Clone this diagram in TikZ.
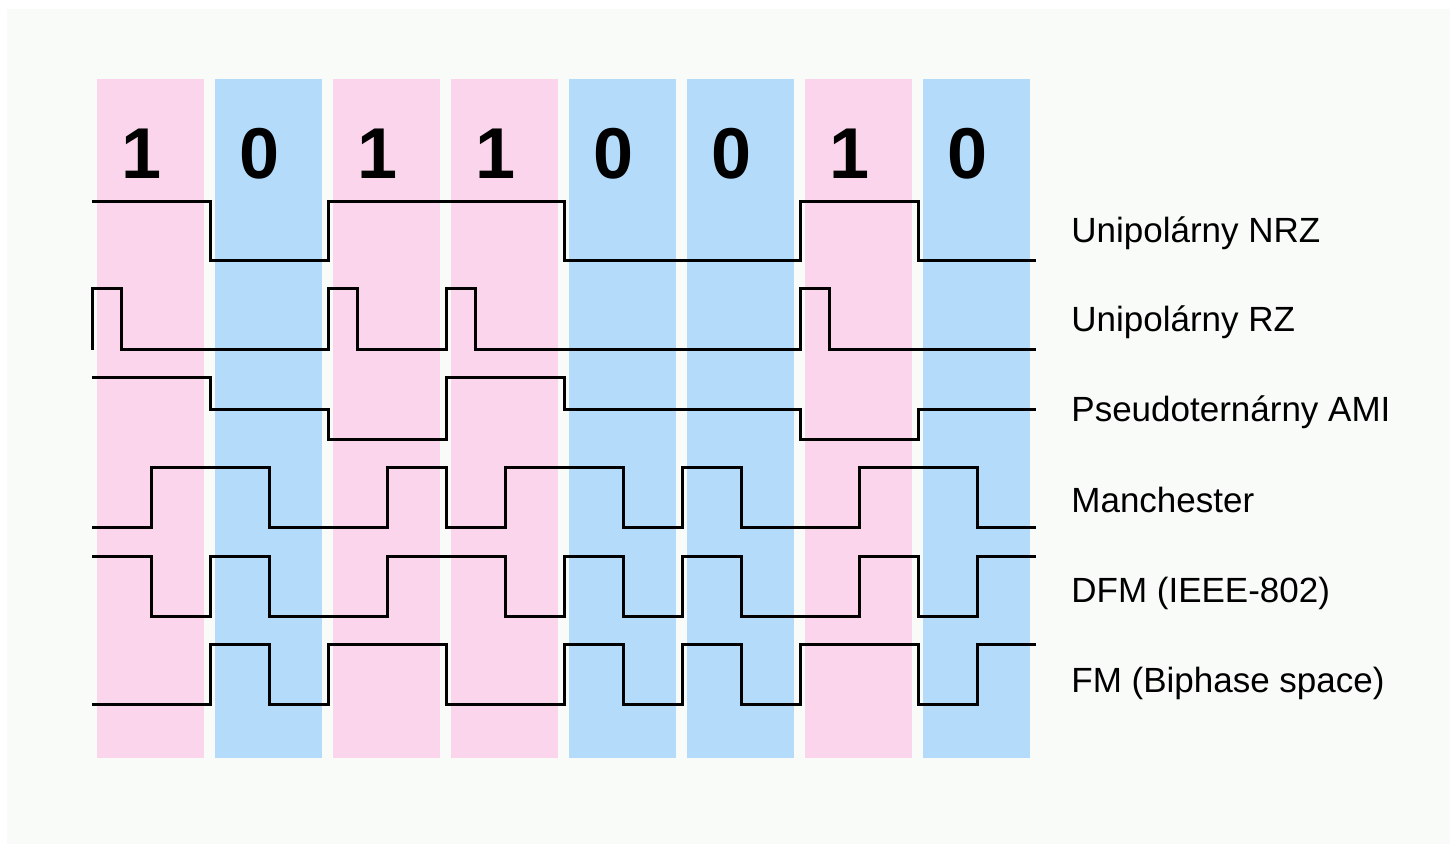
\documentclass[tikz,border=0pt]{standalone}
\usepackage{fontspec}
\setmainfont{Liberation Sans}
\usepackage{tikz}
\usetikzlibrary{positioning}
\definecolor{tkPink}{RGB}{250,213,236}
\definecolor{tkSky}{RGB}{180,220,250}
\definecolor{tkBack}{RGB}{249,251,249}

\begin{document}
\begin{tikzpicture}[
  x=0.5pt, y=-0.5pt,
  one/.style={fill=tkPink},
  zero/.style={fill=tkSky},
  bit/.style={anchor=base, inner sep=0pt, font=\fontsize{36}{40}\selectfont\bfseries},
  code/.style={anchor=base west, inner sep=0pt, font=\fontsize{17.5}{20}\selectfont},
  wave/.style={draw=black, line width=1.5pt, line join=miter}
]
  \useasboundingbox (0,0) rectangle (1450,844);
  \fill[white] (0,0) rectangle (1450,844);
  \fill[tkBack] (7,9) rectangle (1450,844);
  \fill[one] (97,79) rectangle (204,758);
  \fill[zero] (215,79) rectangle (322,758);
  \fill[one] (333,79) rectangle (440,758);
  \fill[one] (451,79) rectangle (558,758);
  \fill[zero] (569,79) rectangle (676,758);
  \fill[zero] (687,79) rectangle (794,758);
  \fill[one] (805,79) rectangle (912,758);
  \fill[zero] (923,79) rectangle (1030,758);
  \node[bit] (b1) at (142,179) {1};
  \node[bit] (b2) at (260,179) {0};
  \node[bit] (b3) at (378,179) {1};
  \node[bit] (b4) at (496,179) {1};
  \node[bit] (b5) at (614,179) {0};
  \node[bit] (b6) at (732,179) {0};
  \node[bit] (b7) at (850,179) {1};
  \node[bit] (b8) at (968,179) {0};
  \draw[wave] (92,202) -- (210,202) -- (210,261) -- (328,261) -- (328,202) -- (564,202) -- (564,261) -- (800,261) -- (800,202) -- (918,202) -- (918,261) -- (1036,261);
  \draw[wave] (92,350) -- (92,289) -- (121.5,289) -- (121.5,350) -- (328,350) -- (328,289) -- (357.5,289) -- (357.5,350) -- (446,350) -- (446,289) -- (475.5,289) -- (475.5,350) -- (800,350) -- (800,289) -- (829.5,289) -- (829.5,350) -- (1036,350);
  \draw[wave] (92,378) -- (210,378) -- (210,409) -- (328,409) -- (328,439) -- (446,439) -- (446,378) -- (564,378) -- (564,409) -- (800,409) -- (800,439) -- (918,439) -- (918,409) -- (1036,409);
  \draw[wave] (92,527) -- (151,527) -- (151,467) -- (269,467) -- (269,527) -- (387,527) -- (387,467) -- (446,467) -- (446,527) -- (505,527) -- (505,467) -- (623,467) -- (623,527) -- (682,527) -- (682,467) -- (741,467) -- (741,527) -- (859,527) -- (859,467) -- (977,467) -- (977,527) -- (1036,527);
  \draw[wave] (92,556) -- (151,556) -- (151,616) -- (210,616) -- (210,556) -- (269,556) -- (269,616) -- (387,616) -- (387,556) -- (505,556) -- (505,616) -- (564,616) -- (564,556) -- (623,556) -- (623,616) -- (682,616) -- (682,556) -- (741,556) -- (741,616) -- (859,616) -- (859,556) -- (918,556) -- (918,616) -- (977,616) -- (977,556) -- (1036,556);
  \draw[wave] (92,704) -- (210,704) -- (210,644) -- (269,644) -- (269,704) -- (328,704) -- (328,644) -- (446,644) -- (446,704) -- (564,704) -- (564,644) -- (623,644) -- (623,704) -- (682,704) -- (682,644) -- (741,644) -- (741,704) -- (800,704) -- (800,644) -- (918,644) -- (918,704) -- (977,704) -- (977,644) -- (1036,644);
  \node[code] (nrz) at (1071,243) {Unipolárny NRZ};
  \node[code] (rz) at (1071,332) {Unipolárny RZ};
  \node[code] (ami) at (1071,422) {Pseudoternárny AMI};
  \node[code] (man) at (1071,512) {Manchester};
  \node[code] (dfm) at (1071,602) {DFM (IEEE-802)};
  \node[code] (fm) at (1071,692) {FM (Biphase space)};
\end{tikzpicture}
\end{document}
